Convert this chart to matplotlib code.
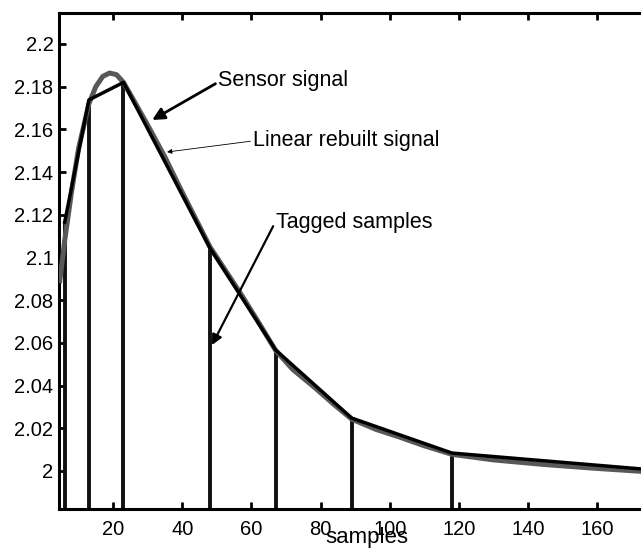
import numpy as np
import matplotlib.pyplot as plt
from matplotlib.ticker import FuncFormatter

plt.rcParams['font.family'] = ['Liberation Sans', 'DejaVu Sans']

# sensor signal
sensor_x = [4.5, 6, 8, 10, 13, 15, 17, 19, 21, 23, 26, 30, 35, 40, 48, 57, 62, 67,
            72, 78, 84, 89, 96, 103, 110, 118, 130, 145, 160, 175, 185]
sensor_y = [2.088, 2.108, 2.131, 2.151, 2.172, 2.180, 2.1848, 2.1864, 2.1856, 2.182,
            2.1735, 2.162, 2.147, 2.1305, 2.105, 2.0828, 2.0698, 2.0565, 2.0475,
            2.0395, 2.031, 2.0243, 2.0195, 2.0158, 2.0118, 2.0078, 2.0052, 2.003,
            2.0012, 1.9996, 1.9988]

# tagged samples (linear rebuilt signal goes through them)
tag_x = [6, 13, 23, 48, 67, 89, 118, 185]
tag_y = [2.1166, 2.1738, 2.182, 2.1044, 2.0567, 2.0248, 2.0084, 1.9993]

xticks = [20, 40, 60, 80, 100, 120, 140, 160]
yticks = [2.0, 2.02, 2.04, 2.06, 2.08, 2.1, 2.12, 2.14, 2.16, 2.18, 2.2]

fig = plt.figure(figsize=(6.41, 5.51), dpi=100)
ax = fig.add_axes([59 / 641, 42 / 551, 590 / 641, 496 / 551])

ymin, ymax = 1.9822, 2.2145
ax.vlines(tag_x, ymin, tag_y, color='#111111', lw=2.8, zorder=2)
ax.plot(sensor_x, sensor_y, color='#585858', lw=3.6, zorder=3, solid_capstyle='butt')
ax.plot(tag_x, tag_y, color='black', lw=2.5, zorder=4)

ax.set_xlim(4.35, 175.0)
ax.set_ylim(ymin, ymax)
ax.set_xticks(xticks)
ax.set_yticks(yticks)
ax.yaxis.set_major_formatter(FuncFormatter(lambda v, p: '%g' % round(v, 3)))
ax.tick_params(direction='in', length=5, width=2, labelsize=14.5,
               top=True, right=True)
ax.tick_params(axis='x', pad=8)
ax.tick_params(axis='y', pad=4)
for s in ax.spines.values():
    s.set_linewidth(2.2)

ax.set_xlabel('samples', fontsize=16)
ax.xaxis.set_label_coords((367 - 59) / 590, -0.037)

ax.annotate('Sensor signal', xy=(31.3, 2.1644), xytext=(50.4, 2.1831),
            fontsize=15.5, va='center', ha='left',
            arrowprops=dict(arrowstyle='-|>', color='black', lw=2,
                            mutation_scale=18, shrinkA=0, shrinkB=0,
                            relpos=(0, 0.4)))
ax.annotate('Linear rebuilt signal', xy=(35.6, 2.1494), xytext=(60.5, 2.1546),
            fontsize=15.5, va='center', ha='left',
            arrowprops=dict(arrowstyle='-|>', color='black', lw=0.6,
                            mutation_scale=7, shrinkA=0, shrinkB=0,
                            relpos=(0, 0.5)))
ax.annotate('Tagged samples', xy=(48.6, 2.059), xytext=(67.1, 2.1162),
            fontsize=15.5, va='center', ha='left',
            arrowprops=dict(arrowstyle='-|>', color='black', lw=1.6,
                            mutation_scale=15, shrinkA=0, shrinkB=0,
                            relpos=(0, 0.6)))

fig.savefig('out.png', dpi=100)
